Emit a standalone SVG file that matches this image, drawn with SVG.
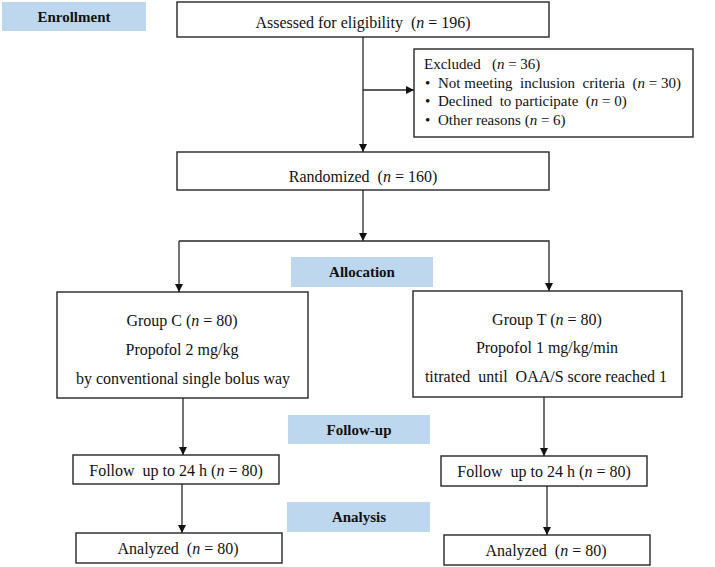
<svg xmlns="http://www.w3.org/2000/svg" width="715" height="567" viewBox="0 0 715 567">
<style>
.box{fill:#fff;stroke:#262626;stroke-width:1.4}
.lab{fill:#bdd7ee}
.t{font-family:"Liberation Serif","Times New Roman",serif;font-size:16px;fill:#111;text-anchor:middle}
.s{font-family:"Liberation Serif","Times New Roman",serif;font-size:15px;fill:#111}
.b{font-family:"Liberation Serif","Times New Roman",serif;font-size:15px;font-weight:bold;fill:#111;text-anchor:middle}
.c{fill:none;stroke:#262626;stroke-width:1.3}
</style>
<defs>
<marker id="ah" markerWidth="8" markerHeight="8" refX="8" refY="4" orient="auto" markerUnits="userSpaceOnUse">
<path d="M0,0 L8,4 L0,8 Z" fill="#111"/>
</marker>
</defs>
<rect width="715" height="567" fill="#fff"/>
<g id="label-enrollment"><rect class="lab" x="2" y="2" width="144" height="29"/><text class="b" x="74" y="22">Enrollment</text></g>
<g id="label-allocation"><rect class="lab" x="291" y="257" width="142" height="30"/><text class="b" x="362" y="277">Allocation</text></g>
<g id="label-followup"><rect class="lab" x="288" y="415" width="142" height="29"/><text class="b" x="359" y="435">Follow-up</text></g>
<g id="label-analysis"><rect class="lab" x="287" y="502" width="143" height="30"/><text class="b" x="359" y="522">Analysis</text></g>

<g id="assessed"><rect class="box" x="177" y="2" width="372" height="35"/><text class="t" x="363" y="28" xml:space="preserve">Assessed for eligibility  (<tspan font-style="italic">n</tspan> = 196)</text></g>
<g id="excluded"><rect class="box" x="414" y="49" width="279" height="88"/>
<text class="s" x="424" y="69" xml:space="preserve">Excluded   (<tspan font-style="italic">n</tspan> = 36)</text>
<text class="s" x="425" y="88">•</text><text class="s" x="438" y="88" xml:space="preserve">Not meeting  inclusion  criteria  (<tspan font-style="italic">n</tspan> = 30)</text>
<text class="s" x="425" y="106">•</text><text class="s" x="438" y="106" xml:space="preserve">Declined  to participate  (<tspan font-style="italic">n</tspan> = 0)</text>
<text class="s" x="425" y="125">•</text><text class="s" x="438" y="125" xml:space="preserve">Other reasons (<tspan font-style="italic">n</tspan> = 6)</text>
</g>
<g id="randomized"><rect class="box" x="177" y="152" width="372" height="38"/><text class="t" x="363" y="182" xml:space="preserve">Randomized  (<tspan font-style="italic">n</tspan> = 160)</text></g>
<g id="groupC"><rect class="box" x="57" y="292" width="251" height="106"/>
<text class="t" x="182" y="326">Group C (<tspan font-style="italic">n</tspan> = 80)</text>
<text class="t" x="182" y="355">Propofol 2 mg/kg</text>
<text class="t" x="183" y="384">by conventional single bolus way</text>
</g>
<g id="groupT"><rect class="box" x="413" y="291" width="269" height="106"/>
<text class="t" x="547" y="325">Group T (<tspan font-style="italic">n</tspan> = 80)</text>
<text class="t" x="547" y="353">Propofol 1 mg/kg/min</text>
<text class="t" x="546" y="382" xml:space="preserve">titrated  until  OAA/S score reached 1</text>
</g>
<g id="followC"><rect class="box" x="73" y="455" width="206" height="29"/><text class="t" x="176" y="476" xml:space="preserve">Follow  up to 24 h (<tspan font-style="italic">n</tspan> = 80)</text></g>
<g id="followT"><rect class="box" x="441" y="456" width="206" height="30"/><text class="t" x="544" y="477" xml:space="preserve">Follow  up to 24 h (<tspan font-style="italic">n</tspan> = 80)</text></g>
<g id="analyzedC"><rect class="box" x="76" y="533" width="206" height="30"/><text class="t" x="178" y="554" xml:space="preserve">Analyzed  (<tspan font-style="italic">n</tspan> = 80)</text></g>
<g id="analyzedT"><rect class="box" x="444" y="535" width="206" height="30"/><text class="t" x="546" y="556" xml:space="preserve">Analyzed  (<tspan font-style="italic">n</tspan> = 80)</text></g>

<g id="connectors">
<line class="c" x1="363" y1="37" x2="363" y2="152" marker-end="url(#ah)"/>
<line class="c" x1="363" y1="90" x2="414" y2="90" marker-end="url(#ah)"/>
<line class="c" x1="363" y1="190" x2="363" y2="241" marker-end="url(#ah)"/>
<polyline class="c" points="179,241 549,241 549,291" marker-end="url(#ah)"/>
<line class="c" x1="179" y1="241" x2="179" y2="292" marker-end="url(#ah)"/>
<line class="c" x1="183" y1="398" x2="183" y2="455" marker-end="url(#ah)"/>
<line class="c" x1="182" y1="484" x2="182" y2="533" marker-end="url(#ah)"/>
<line class="c" x1="544" y1="397" x2="544" y2="456" marker-end="url(#ah)"/>
<line class="c" x1="547" y1="486" x2="547" y2="535" marker-end="url(#ah)"/>
</g>
</svg>
